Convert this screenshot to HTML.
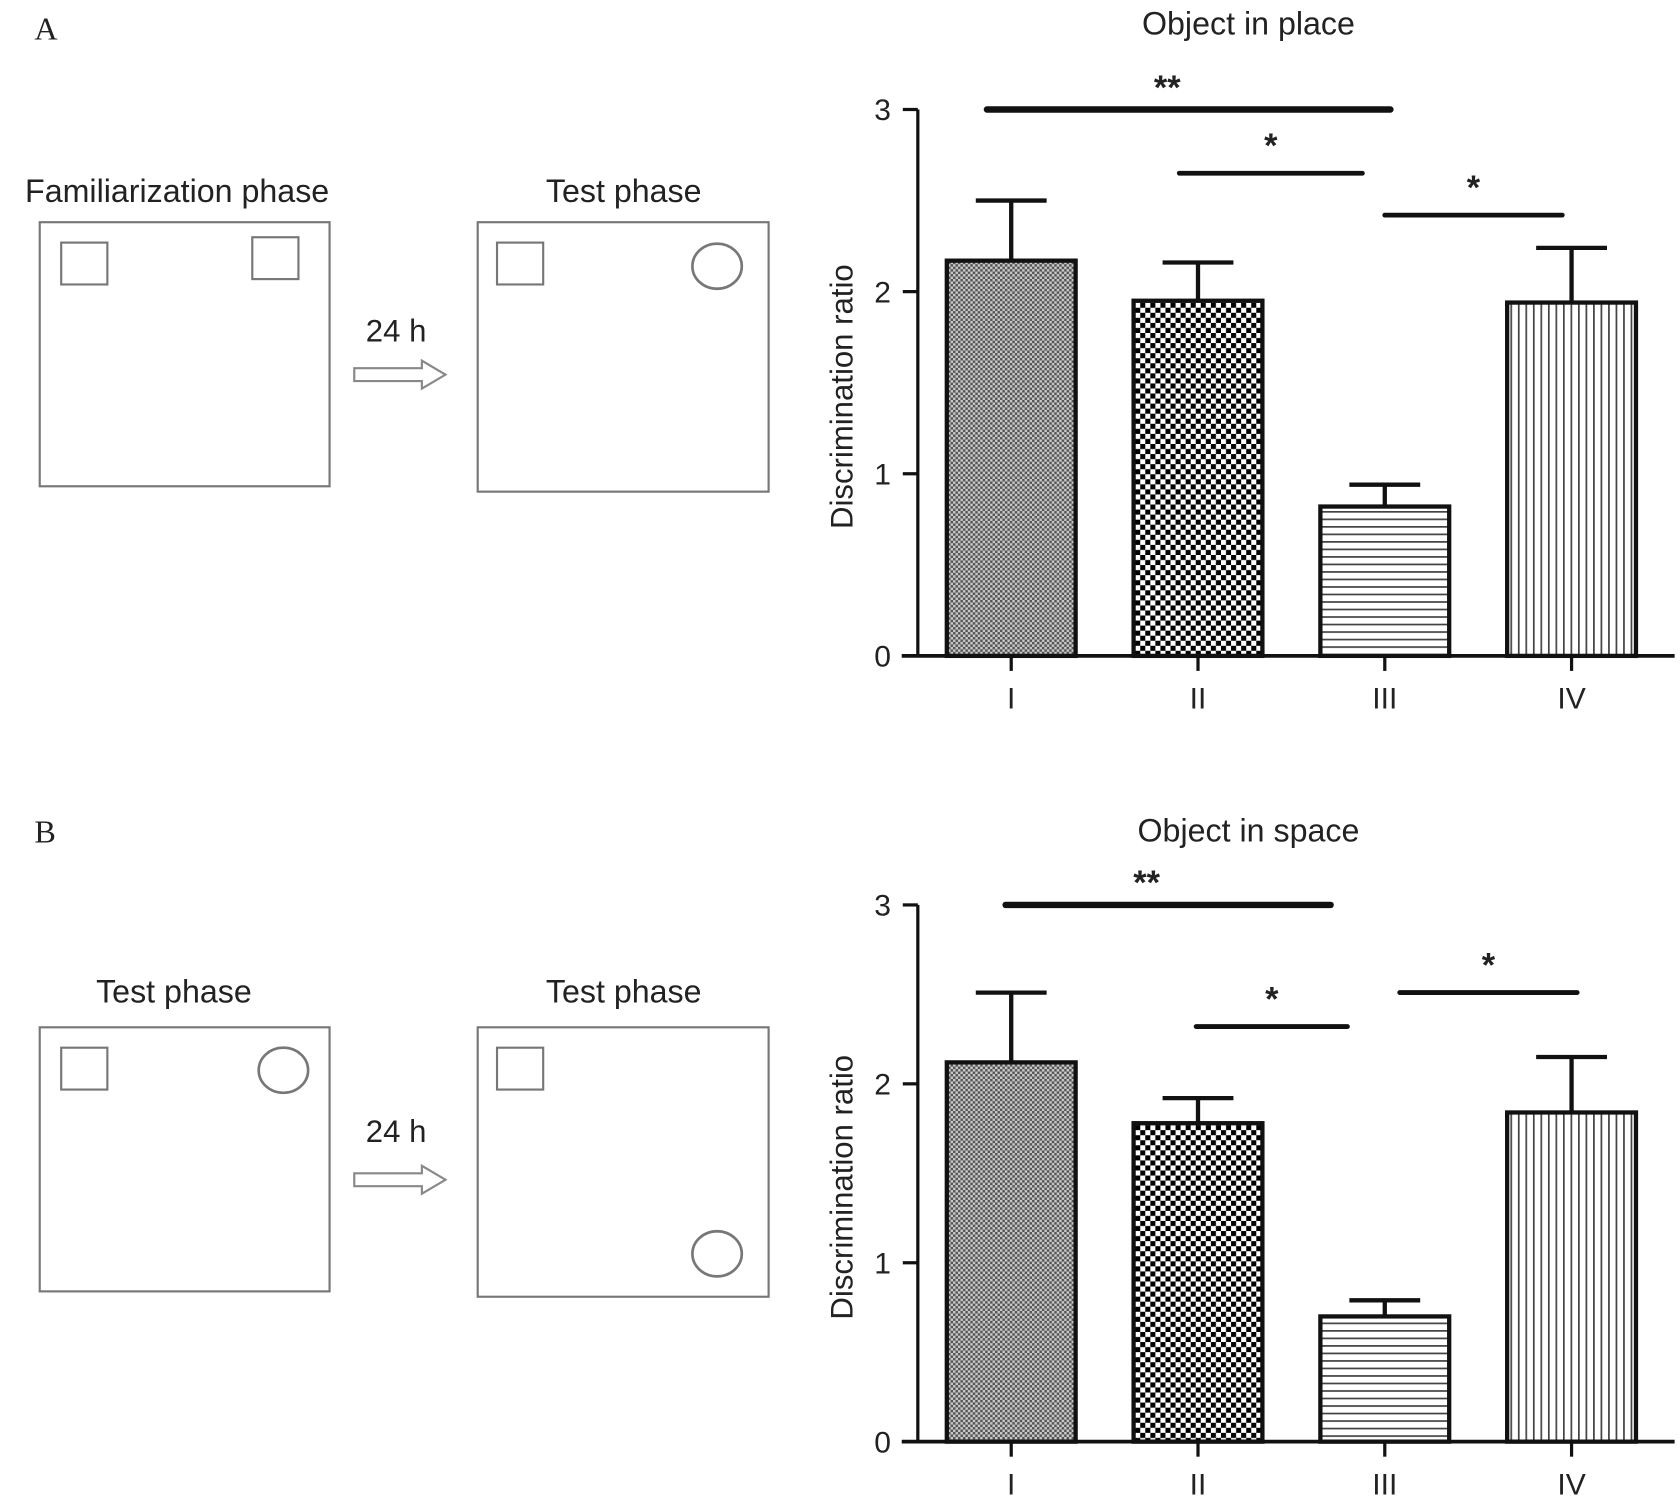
<!DOCTYPE html>
<html><head><meta charset="utf-8"><style>
html,body{margin:0;padding:0;background:#fff}
svg{display:block}
text{font-family:"Liberation Sans",sans-serif;fill:#222}
</style></head><body>
<svg id="fig" width="1680" height="1505" viewBox="0 0 1565 1402" xmlns="http://www.w3.org/2000/svg">
<defs>
<pattern id="pI" width="4.6" height="4.6" patternUnits="userSpaceOnUse"><rect width="4.6" height="4.6" fill="#c8c8c8"/><rect width="2.3" height="2.3" fill="#555"/><rect x="2.3" y="2.3" width="2.3" height="2.3" fill="#555"/></pattern>
<pattern id="pII" width="9.4" height="9.4" patternUnits="userSpaceOnUse"><rect width="9.4" height="9.4" fill="#fff"/><rect width="4.7" height="4.7" fill="#000"/><rect x="4.7" y="4.7" width="4.7" height="4.7" fill="#000"/></pattern>
<pattern id="pIII" width="10" height="7" patternUnits="userSpaceOnUse"><rect width="10" height="7" fill="#fff"/><rect y="0" width="10" height="1.6" fill="#444"/></pattern>
<pattern id="pIV" width="7" height="10" patternUnits="userSpaceOnUse"><rect width="7" height="10" fill="#fff"/><rect x="0" width="1.6" height="10" fill="#444"/></pattern>
</defs>

<g>
<text x="32" y="37" style="font-family:'Liberation Serif',serif;font-size:30px">A</text>
<text x="165" y="188" text-anchor="middle" font-size="30">Familiarization phase</text>
<text x="581" y="188" text-anchor="middle" font-size="30">Test phase</text>
<rect x="37" y="207" width="270" height="246" fill="none" stroke="#777" stroke-width="2"/>
<rect x="57" y="226" width="43" height="39" fill="none" stroke="#777" stroke-width="2"/>
<rect x="235" y="221" width="43" height="39" fill="none" stroke="#777" stroke-width="2"/>
<text x="369" y="318" text-anchor="middle" font-size="29">24 h</text>
<path d="M330 343 L393 343 L393 336 L415 349 L393 362 L393 355 L330 355 Z" fill="none" stroke="#888" stroke-width="2"/>
<rect x="445" y="207" width="271" height="251" fill="none" stroke="#777" stroke-width="2"/>
<rect x="463" y="226" width="43" height="39" fill="none" stroke="#777" stroke-width="2"/>
<ellipse cx="668" cy="248" rx="23" ry="21" fill="none" stroke="#777" stroke-width="2.5"/>
</g>

<g>
<text x="32" y="785" style="font-family:'Liberation Serif',serif;font-size:30px">B</text>
<text x="162" y="934" text-anchor="middle" font-size="30">Test phase</text>
<text x="581" y="934" text-anchor="middle" font-size="30">Test phase</text>
<rect x="37" y="957" width="270" height="246" fill="none" stroke="#777" stroke-width="2"/>
<rect x="57" y="976" width="43" height="39" fill="none" stroke="#777" stroke-width="2"/>
<ellipse cx="264" cy="997" rx="23" ry="21" fill="none" stroke="#777" stroke-width="2.5"/>
<text x="369" y="1064" text-anchor="middle" font-size="29">24 h</text>
<path d="M330 1093 L393 1093 L393 1086 L415 1099 L393 1112 L393 1105 L330 1105 Z" fill="none" stroke="#888" stroke-width="2"/>
<rect x="445" y="957" width="271" height="251" fill="none" stroke="#777" stroke-width="2"/>
<rect x="463" y="976" width="43" height="39" fill="none" stroke="#777" stroke-width="2"/>
<ellipse cx="668" cy="1168" rx="23" ry="21" fill="none" stroke="#777" stroke-width="2.5"/>
</g>

<g id="chartA"></g>
<g id="chartB"></g>
</svg>
<script>
const categories = ["I","II","III","IV"];
const tickValues = [0,1,2,3];
const meansA = [2.17,1.95,0.82,1.94];
const errA = [0.33,0.21,0.12,0.30];
const meansB = [2.12,1.78,0.70,1.84];
const errB = [0.39,0.14,0.09,0.31];
// [from category position, to category position, value, label]
const sigA = [[-0.13,2.03,3.0,"**"],[0.9,1.88,2.65,"*"],[2.0,2.95,2.42,"*"]];
const sigB = [[-0.03,1.71,3.0,"**"],[0.99,1.80,2.32,"*"],[2.08,3.03,2.51,"*"]];
const fills = ["url(#pI)","url(#pII)","url(#pIII)","url(#pIV)"];
const NS = "http://www.w3.org/2000/svg";
function mk(parent, tag, attrs, txt){const e=document.createElementNS(NS,tag);for(const k in attrs)e.setAttribute(k,attrs[k]);if(txt!==undefined)e.textContent=txt;parent.appendChild(e);return e;}

function drawChart(gid, title, means, errs, sigs, y0px, y3px, titleY){
  const g=document.getElementById(gid);
  const axisX=855, barW=120;
  const y=v=>y0px+(y3px-y0px)*v/3;
  const x=i=>942+174*i;
  const t=mk(g,"text",{x:1163,y:titleY,"text-anchor":"middle","font-size":30},title);
  
  
  const yl=mk(g,"text",{x:0,y:0,"text-anchor":"middle","font-size":29,transform:`translate(794 ${(y0px+y3px)/2+13}) rotate(-90)`},"Discrimination ratio");
  
  
  means.forEach((m,i)=>{
    const r=mk(g,"rect",{x:x(i)-barW/2,y:y(m),width:barW,height:y0px-y(m),fill:fills[i],stroke:"#111","stroke-width":4});
    
    
    const top=y(m+errs[i]);
    const eb=mk(g,"path",{d:`M${x(i)} ${y(m)} V${top} M${x(i)-33} ${top} H${x(i)+33}`,stroke:"#111","stroke-width":4,fill:"none"});
    
    
  });
  const ya=mk(g,"line",{x1:axisX,y1:y0px,x2:axisX,y2:y(3),stroke:"#111","stroke-width":3});
  
  
  const xa=mk(g,"line",{x1:840,y1:y0px,x2:1560,y2:y0px,stroke:"#111","stroke-width":3.5});
  
  
  tickValues.forEach(v=>{
    const tk=mk(g,"line",{x1:axisX-14,y1:y(v),x2:axisX,y2:y(v),stroke:"#111","stroke-width":3});
    
    
    const tl=mk(g,"text",{x:axisX-25,y:y(v)+10,"text-anchor":"end","font-size":28},String(v));
    
    
  });
  categories.forEach((c,i)=>{
    const tk=mk(g,"line",{x1:x(i),y1:y0px,x2:x(i),y2:y0px+14,stroke:"#111","stroke-width":3});
    
    
    const tl=mk(g,"text",{x:x(i),y:y0px+49,"text-anchor":"middle","font-size":28},c);
    
    
  });
  sigs.forEach(s=>{
    const x1=x(s[0]), x2=x(s[1]);
    const big=s[3]==="**";
    const ln=mk(g,"line",{x1:x1,y1:y(s[2]),x2:x2,y2:y(s[2]),stroke:"#111","stroke-width":big?6:4.5,"stroke-linecap":"round"});
    
    
    const st=mk(g,"text",{x:(x1+x2)/2-(big?20:0),y:y(s[2])-(big?10:15),"text-anchor":"middle","font-size":32,"font-weight":"bold",fill:"#555"},s[3]);
    
    
  });
}
drawChart("chartA","Object in place",meansA,errA,sigA,611,102,32);
drawChart("chartB","Object in space",meansB,errB,sigB,1343,843,784);
</script>
</body></html>
